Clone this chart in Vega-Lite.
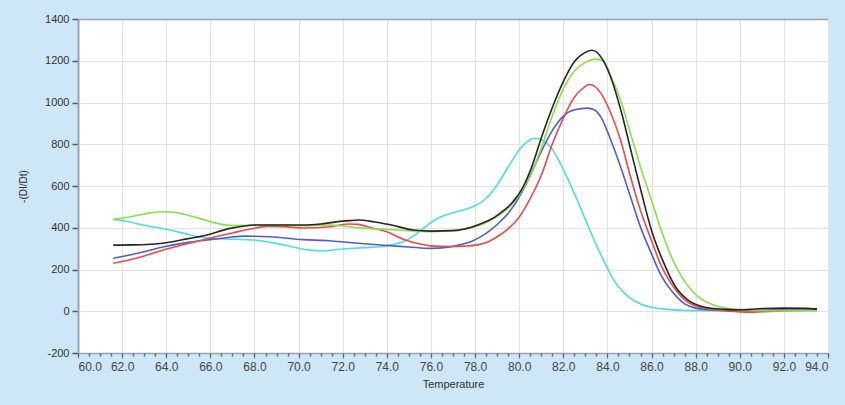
{
  "$schema": "https://vega.github.io/schema/vega-lite/v6.json",
  "width": 750,
  "height": 334,
  "autosize": {"type": "none"},
  "padding": {"left": 78, "top": 19, "right": 17, "bottom": 52},
  "background": "#cde7f9",
  "config": {"view": {"stroke": null, "fill": "#ffffff"}, "font": "Liberation Sans"},
  "datasets": {
    "curves": [
      {"s": "cyan", "t": 61.6, "v": 440}, {"s": "cyan", "t": 62, "v": 435}, {"s": "cyan", "t": 63, "v": 412}, {"s": "cyan", "t": 64, "v": 393}, {"s": "cyan", "t": 65, "v": 368}, {"s": "cyan", "t": 65.4, "v": 358}, {"s": "cyan", "t": 66, "v": 350}, {"s": "cyan", "t": 67, "v": 345}, {"s": "cyan", "t": 68, "v": 341}, {"s": "cyan", "t": 69, "v": 325}, {"s": "cyan", "t": 70, "v": 302}, {"s": "cyan", "t": 70.5, "v": 293}, {"s": "cyan", "t": 71.1, "v": 290}, {"s": "cyan", "t": 72, "v": 298}, {"s": "cyan", "t": 73, "v": 305}, {"s": "cyan", "t": 73.7, "v": 309}, {"s": "cyan", "t": 74.2, "v": 318}, {"s": "cyan", "t": 74.8, "v": 335}, {"s": "cyan", "t": 75.2, "v": 360}, {"s": "cyan", "t": 75.6, "v": 392}, {"s": "cyan", "t": 76, "v": 425}, {"s": "cyan", "t": 76.4, "v": 450}, {"s": "cyan", "t": 77, "v": 472}, {"s": "cyan", "t": 77.5, "v": 486}, {"s": "cyan", "t": 78, "v": 505}, {"s": "cyan", "t": 78.5, "v": 540}, {"s": "cyan", "t": 79, "v": 605}, {"s": "cyan", "t": 79.5, "v": 690}, {"s": "cyan", "t": 80, "v": 772}, {"s": "cyan", "t": 80.4, "v": 815}, {"s": "cyan", "t": 80.7, "v": 829}, {"s": "cyan", "t": 81, "v": 822}, {"s": "cyan", "t": 81.4, "v": 790}, {"s": "cyan", "t": 82, "v": 680}, {"s": "cyan", "t": 82.6, "v": 540}, {"s": "cyan", "t": 83, "v": 440}, {"s": "cyan", "t": 83.4, "v": 340}, {"s": "cyan", "t": 83.8, "v": 250}, {"s": "cyan", "t": 84.2, "v": 165}, {"s": "cyan", "t": 84.6, "v": 105}, {"s": "cyan", "t": 85, "v": 65}, {"s": "cyan", "t": 85.5, "v": 35}, {"s": "cyan", "t": 86.6, "v": 10}, {"s": "cyan", "t": 87.8, "v": 3}, {"s": "cyan", "t": 89, "v": 2}, {"s": "cyan", "t": 90, "v": 2}, {"s": "cyan", "t": 91, "v": 3}, {"s": "cyan", "t": 92, "v": 4}, {"s": "cyan", "t": 93, "v": 5}, {"s": "cyan", "t": 93.5, "v": 5},
      {"s": "blue", "t": 61.6, "v": 254}, {"s": "blue", "t": 62, "v": 262}, {"s": "blue", "t": 63, "v": 285}, {"s": "blue", "t": 63.9, "v": 309}, {"s": "blue", "t": 65, "v": 330}, {"s": "blue", "t": 66, "v": 343}, {"s": "blue", "t": 67, "v": 356}, {"s": "blue", "t": 67.5, "v": 360}, {"s": "blue", "t": 68.7, "v": 357}, {"s": "blue", "t": 70.2, "v": 343}, {"s": "blue", "t": 71.4, "v": 338}, {"s": "blue", "t": 72.3, "v": 329}, {"s": "blue", "t": 73.7, "v": 317}, {"s": "blue", "t": 75, "v": 308}, {"s": "blue", "t": 76, "v": 301}, {"s": "blue", "t": 76.7, "v": 306}, {"s": "blue", "t": 77.3, "v": 318}, {"s": "blue", "t": 77.8, "v": 333}, {"s": "blue", "t": 78.3, "v": 360}, {"s": "blue", "t": 78.7, "v": 389}, {"s": "blue", "t": 79.1, "v": 425}, {"s": "blue", "t": 79.5, "v": 469}, {"s": "blue", "t": 80.1, "v": 565}, {"s": "blue", "t": 80.5, "v": 650}, {"s": "blue", "t": 81, "v": 765}, {"s": "blue", "t": 81.5, "v": 865}, {"s": "blue", "t": 82, "v": 935}, {"s": "blue", "t": 82.5, "v": 965}, {"s": "blue", "t": 83.1, "v": 973}, {"s": "blue", "t": 83.4, "v": 965}, {"s": "blue", "t": 83.7, "v": 931}, {"s": "blue", "t": 84.1, "v": 835}, {"s": "blue", "t": 84.6, "v": 691}, {"s": "blue", "t": 85.05, "v": 547}, {"s": "blue", "t": 85.5, "v": 403}, {"s": "blue", "t": 86, "v": 275}, {"s": "blue", "t": 86.4, "v": 179}, {"s": "blue", "t": 86.9, "v": 99}, {"s": "blue", "t": 87.5, "v": 35}, {"s": "blue", "t": 88, "v": 15}, {"s": "blue", "t": 88.5, "v": 8}, {"s": "blue", "t": 89, "v": 5}, {"s": "blue", "t": 90, "v": 3}, {"s": "blue", "t": 91, "v": 5}, {"s": "blue", "t": 92, "v": 10}, {"s": "blue", "t": 93, "v": 12}, {"s": "blue", "t": 93.5, "v": 12},
      {"s": "red", "t": 61.6, "v": 230}, {"s": "red", "t": 62, "v": 238}, {"s": "red", "t": 63, "v": 265}, {"s": "red", "t": 63.9, "v": 295}, {"s": "red", "t": 65, "v": 325}, {"s": "red", "t": 66, "v": 351}, {"s": "red", "t": 67, "v": 375}, {"s": "red", "t": 67.8, "v": 394}, {"s": "red", "t": 68.7, "v": 408}, {"s": "red", "t": 69.5, "v": 404}, {"s": "red", "t": 70.2, "v": 399}, {"s": "red", "t": 71.4, "v": 405}, {"s": "red", "t": 72.3, "v": 418}, {"s": "red", "t": 72.7, "v": 416}, {"s": "red", "t": 73.3, "v": 400}, {"s": "red", "t": 74, "v": 381}, {"s": "red", "t": 74.8, "v": 342}, {"s": "red", "t": 75.5, "v": 322}, {"s": "red", "t": 76, "v": 313}, {"s": "red", "t": 76.9, "v": 310}, {"s": "red", "t": 77.5, "v": 312}, {"s": "red", "t": 78.1, "v": 318}, {"s": "red", "t": 78.6, "v": 333}, {"s": "red", "t": 79, "v": 357}, {"s": "red", "t": 79.5, "v": 395}, {"s": "red", "t": 79.9, "v": 437}, {"s": "red", "t": 80.5, "v": 540}, {"s": "red", "t": 81, "v": 650}, {"s": "red", "t": 81.5, "v": 800}, {"s": "red", "t": 82, "v": 925}, {"s": "red", "t": 82.5, "v": 1025}, {"s": "red", "t": 82.8, "v": 1060}, {"s": "red", "t": 83.2, "v": 1086}, {"s": "red", "t": 83.7, "v": 1045}, {"s": "red", "t": 84.1, "v": 963}, {"s": "red", "t": 84.6, "v": 819}, {"s": "red", "t": 85.05, "v": 643}, {"s": "red", "t": 85.5, "v": 483}, {"s": "red", "t": 86, "v": 339}, {"s": "red", "t": 86.4, "v": 227}, {"s": "red", "t": 86.9, "v": 131}, {"s": "red", "t": 87.5, "v": 55}, {"s": "red", "t": 88, "v": 25}, {"s": "red", "t": 88.5, "v": 12}, {"s": "red", "t": 89, "v": 5}, {"s": "red", "t": 89.5, "v": 0}, {"s": "red", "t": 90, "v": -3}, {"s": "red", "t": 90.5, "v": -4}, {"s": "red", "t": 91, "v": -2}, {"s": "red", "t": 92, "v": 2}, {"s": "red", "t": 93, "v": 4}, {"s": "red", "t": 93.5, "v": 5},
      {"s": "green", "t": 61.6, "v": 440}, {"s": "green", "t": 62.5, "v": 455}, {"s": "green", "t": 63.2, "v": 470}, {"s": "green", "t": 64, "v": 477}, {"s": "green", "t": 64.8, "v": 465}, {"s": "green", "t": 65.5, "v": 445}, {"s": "green", "t": 66.3, "v": 421}, {"s": "green", "t": 67, "v": 411}, {"s": "green", "t": 68, "v": 413}, {"s": "green", "t": 69, "v": 414}, {"s": "green", "t": 70, "v": 410}, {"s": "green", "t": 71.4, "v": 413}, {"s": "green", "t": 72.9, "v": 398}, {"s": "green", "t": 74.5, "v": 389}, {"s": "green", "t": 76, "v": 381}, {"s": "green", "t": 77.2, "v": 389}, {"s": "green", "t": 78.1, "v": 408}, {"s": "green", "t": 78.6, "v": 430}, {"s": "green", "t": 79, "v": 453}, {"s": "green", "t": 79.5, "v": 495}, {"s": "green", "t": 80, "v": 555}, {"s": "green", "t": 80.4, "v": 629}, {"s": "green", "t": 81, "v": 780}, {"s": "green", "t": 81.5, "v": 935}, {"s": "green", "t": 82, "v": 1065}, {"s": "green", "t": 82.5, "v": 1150}, {"s": "green", "t": 83, "v": 1192}, {"s": "green", "t": 83.5, "v": 1208}, {"s": "green", "t": 83.8, "v": 1198}, {"s": "green", "t": 84.1, "v": 1140}, {"s": "green", "t": 84.6, "v": 1011}, {"s": "green", "t": 85.05, "v": 851}, {"s": "green", "t": 85.5, "v": 691}, {"s": "green", "t": 86, "v": 531}, {"s": "green", "t": 86.4, "v": 400}, {"s": "green", "t": 86.9, "v": 262}, {"s": "green", "t": 87.35, "v": 168}, {"s": "green", "t": 87.95, "v": 85}, {"s": "green", "t": 88.3, "v": 55}, {"s": "green", "t": 88.7, "v": 35}, {"s": "green", "t": 89.2, "v": 18}, {"s": "green", "t": 89.7, "v": 10}, {"s": "green", "t": 90.5, "v": 5}, {"s": "green", "t": 91.5, "v": 3}, {"s": "green", "t": 92.5, "v": 3}, {"s": "green", "t": 93.5, "v": 2},
      {"s": "black", "t": 61.6, "v": 317}, {"s": "black", "t": 62.5, "v": 318}, {"s": "black", "t": 63.5, "v": 322}, {"s": "black", "t": 64, "v": 328}, {"s": "black", "t": 65, "v": 348}, {"s": "black", "t": 65.7, "v": 362}, {"s": "black", "t": 66.9, "v": 397}, {"s": "black", "t": 68.1, "v": 413}, {"s": "black", "t": 69, "v": 413}, {"s": "black", "t": 70.2, "v": 413}, {"s": "black", "t": 71, "v": 418}, {"s": "black", "t": 71.7, "v": 428}, {"s": "black", "t": 72.3, "v": 434}, {"s": "black", "t": 72.7, "v": 437}, {"s": "black", "t": 73.4, "v": 429}, {"s": "black", "t": 74.2, "v": 413}, {"s": "black", "t": 75.2, "v": 389}, {"s": "black", "t": 76, "v": 384}, {"s": "black", "t": 77, "v": 386}, {"s": "black", "t": 77.9, "v": 405}, {"s": "black", "t": 78.4, "v": 425}, {"s": "black", "t": 78.8, "v": 445}, {"s": "black", "t": 79.2, "v": 475}, {"s": "black", "t": 79.6, "v": 510}, {"s": "black", "t": 80.2, "v": 600}, {"s": "black", "t": 80.6, "v": 700}, {"s": "black", "t": 81, "v": 830}, {"s": "black", "t": 81.5, "v": 975}, {"s": "black", "t": 82, "v": 1100}, {"s": "black", "t": 82.5, "v": 1195}, {"s": "black", "t": 83, "v": 1240}, {"s": "black", "t": 83.3, "v": 1250}, {"s": "black", "t": 83.8, "v": 1203}, {"s": "black", "t": 84.2, "v": 1107}, {"s": "black", "t": 84.65, "v": 947}, {"s": "black", "t": 85.1, "v": 755}, {"s": "black", "t": 85.55, "v": 565}, {"s": "black", "t": 86, "v": 387}, {"s": "black", "t": 86.5, "v": 245}, {"s": "black", "t": 87.1, "v": 115}, {"s": "black", "t": 87.7, "v": 50}, {"s": "black", "t": 88.2, "v": 25}, {"s": "black", "t": 88.7, "v": 14}, {"s": "black", "t": 89.4, "v": 9}, {"s": "black", "t": 90, "v": 7}, {"s": "black", "t": 90.5, "v": 9}, {"s": "black", "t": 91, "v": 13}, {"s": "black", "t": 92, "v": 15}, {"s": "black", "t": 93, "v": 14}, {"s": "black", "t": 93.5, "v": 10}
    ]
  },
  "data": {"name": "curves"},
  "layer": [
    {
      "mark": {"type": "line", "interpolate": "monotone", "strokeWidth": 1.6},
      "encoding": {
        "x": {
          "field": "t", "type": "quantitative",
          "scale": {"domain": [60, 94], "nice": false, "zero": false},
          "axis": {
            "orient": "bottom",
            "values": [60, 62, 64, 66, 68, 70, 72, 74, 76, 78, 80, 82, 84, 86, 88, 90, 92, 94],
            "format": ".1f", "title": "Temperature",
            "grid": true, "gridColor": "#e3e3e3", "gridWidth": 1,
            "domainColor": "#9aa4ad", "domainWidth": 1.5,
            "tickColor": "#5a6a7a", "tickSize": 5, "tickWidth": 1,
            "labelFontSize": 12, "labelColor": "#454545", "labelPadding": 3,
            "titleFontSize": 11, "titleFontWeight": "normal", "titleColor": "#303030", "titlePadding": 6
          }
        },
        "y": {
          "field": "v", "type": "quantitative",
          "scale": {"domain": [-200, 1400], "nice": false, "zero": false},
          "axis": {
            "values": [-200, 0, 200, 400, 600, 800, 1000, 1200, 1400],
            "labelExpr": "'' + datum.value", "title": "-(DI/Dt)",
            "grid": true, "gridColor": "#e3e3e3", "gridWidth": 1,
            "domainColor": "#9aa4ad", "domainWidth": 2,
            "tickColor": "#555555", "tickSize": 6, "tickWidth": 1.5,
            "labelFontSize": 11, "labelColor": "#333333", "labelPadding": 3,
            "titleFontSize": 10, "titleFontWeight": "normal", "titleColor": "#303030", "titlePadding": 16
          }
        },
        "color": {
          "field": "s", "type": "nominal",
          "scale": {"domain": ["cyan", "blue", "red", "green", "black"], "range": ["#48e0e0", "#4a5fd0", "#f04848", "#88e048", "#262626"]},
          "legend": null
        }
      }
    },
    {
      "mark": {"type": "line", "opacity": 0},
      "encoding": {
        "x": {
          "field": "t", "type": "quantitative",
          "axis": {
            "orient": "bottom",
            "values": [60, 60.5, 61, 61.5, 62, 62.5, 63, 63.5, 64, 64.5, 65, 65.5, 66, 66.5, 67, 67.5, 68, 68.5, 69, 69.5, 70, 70.5, 71, 71.5, 72, 72.5, 73, 73.5, 74, 74.5, 75, 75.5, 76, 76.5, 77, 77.5, 78, 78.5, 79, 79.5, 80, 80.5, 81, 81.5, 82, 82.5, 83, 83.5, 84, 84.5, 85, 85.5, 86, 86.5, 87, 87.5, 88, 88.5, 89, 89.5, 90, 90.5, 91, 91.5, 92, 92.5, 93, 93.5, 94],
            "labels": false, "grid": false, "domain": false, "title": null,
            "tickColor": "#5a6a7a", "tickSize": 3, "tickWidth": 1.5
          }
        },
        "y": {"field": "v", "type": "quantitative"},
        "detail": {"field": "s"}
      }
    },
    {
      "mark": {"type": "line", "opacity": 0},
      "encoding": {
        "x": {
          "field": "t", "type": "quantitative",
          "axis": {"orient": "top", "labels": false, "ticks": false, "grid": false, "title": null, "domainColor": "#9aa4ad", "domainWidth": 1.5}
        },
        "y": {"field": "v", "type": "quantitative"},
        "detail": {"field": "s"}
      }
    }
  ],
  "resolve": {"scale": {"x": "shared", "y": "shared"}, "axis": {"x": "independent", "y": "shared"}}
}
